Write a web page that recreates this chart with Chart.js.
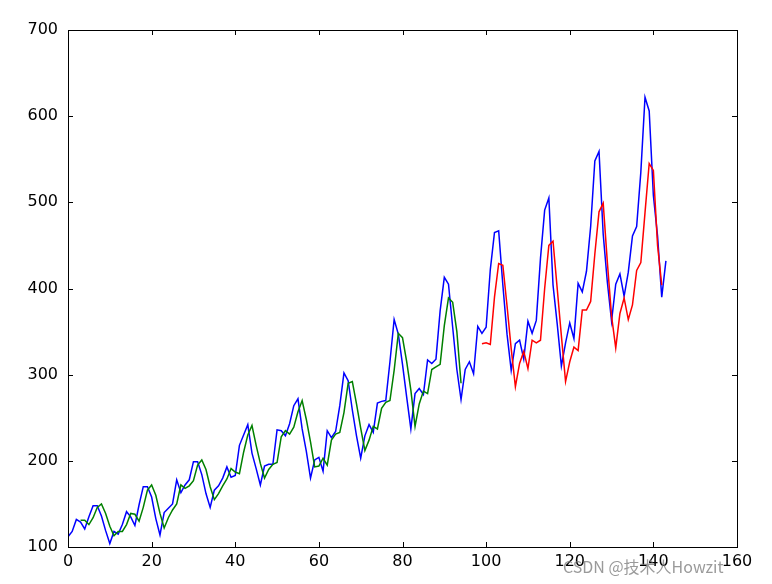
<!DOCTYPE html>
<html><head><meta charset="utf-8">
<script src="https://cdn.jsdelivr.net/npm/chart.js@4/dist/chart.umd.min.js"></script>
<style>html,body{margin:0;padding:0;background:#fff;}canvas{display:block;}</style>
</head><body>
<canvas id="c" width="772" height="584"></canvas>
<script>
// Actual series (index 0..143)
const passengers = [112,118,132,129,121,135,148,148,136,119,104,118,
115,126,141,135,125,149,170,170,158,133,114,140,
145,150,178,163,172,178,199,199,184,162,146,166,
171,180,193,181,183,218,230,242,209,191,172,194,
196,196,236,235,229,243,264,272,237,211,180,201,
204,188,235,227,234,264,302,293,259,229,203,229,
242,233,267,269,270,315,364,347,312,274,237,278,
284,277,317,313,318,374,413,405,355,306,271,306,
315,301,356,348,355,422,465,467,404,347,305,336,
340,318,362,348,363,435,491,505,404,359,310,337,
360,342,406,396,420,472,548,559,463,407,362,405,
417,391,419,461,472,535,622,606,508,461,390,432];

// Train prediction, starting at index 3
const trainStart = 3;
const trainPredict = [131,131,126,134,146,150,139,124,113,118,118,126,139,138,130,146,166,172,160,139,
122,134,143,150,172,168,171,177,195,201,190,170,155,162,171,179,191,187,185,210,
230,241,218,197,180,190,196,198,228,235,231,239,257,270,248,222,193,194,203,195,
224,231,233,256,290,292,266,238,212,224,240,237,261,268,270,305,348,343,315,282,
240,266,281,278,306,309,312,357,389,384,350,290];

// Test prediction, starting at index 99
const testStart = 99;
const testPredict = [336,337,335,390,429,427,380,330,286,313,327,307,340,337,340,400,450,455,400,345,
292,315,332,328,375,375,385,440,489,499,430,368,331,371,389,364,381,421,430,488,
545,537,450,404];

const xTicks = [0,20,40,60,80,100,120,140,160];
const yTicks = [100,200,300,400,500,600,700];
const watermark = 'CSDN @技术人Howzit';

function toPoints(arr, start){ return arr.map((v,i)=>({x:i+start,y:v})); }

const frame = {
  id:'frame',
  afterDraw(chart){
    const {ctx, chartArea:a, scales} = chart;
    ctx.save();
    ctx.strokeStyle='#000'; ctx.lineWidth=1;
    ctx.strokeRect(Math.round(a.left)+0.5, Math.round(a.top)+0.5, Math.round(a.right-a.left), Math.round(a.bottom-a.top));
    ctx.beginPath();
    const tl=5;
    xTicks.forEach(t=>{
      const x=Math.round(scales.x.getPixelForValue(t))+0.5;
      ctx.moveTo(x,a.bottom); ctx.lineTo(x,a.bottom-tl);
      ctx.moveTo(x,a.top); ctx.lineTo(x,a.top+tl);
    });
    yTicks.forEach(t=>{
      const y=Math.round(scales.y.getPixelForValue(t))+0.5;
      ctx.moveTo(a.left,y); ctx.lineTo(a.left+tl,y);
      ctx.moveTo(a.right,y); ctx.lineTo(a.right-tl,y);
    });
    ctx.stroke();
    ctx.font='16px "Noto Sans CJK SC", "DejaVu Sans", sans-serif';
    ctx.fillStyle='rgba(120,120,120,0.75)';
    ctx.textAlign='left'; ctx.textBaseline='middle';
    ctx.fillText(watermark, 563, 567);
    ctx.restore();
  }
};

new Chart(document.getElementById('c'), {
  type:'line',
  data:{datasets:[
    {data:toPoints(passengers,0), borderColor:'#0000ff', borderWidth:1.5, pointRadius:0, fill:false, tension:0, order:3},
    {data:toPoints(trainPredict,trainStart), borderColor:'#008000', borderWidth:1.5, pointRadius:0, fill:false, tension:0, order:2},
    {data:toPoints(testPredict,testStart), borderColor:'#ff0000', borderWidth:1.5, pointRadius:0, fill:false, tension:0, order:1}
  ]},
  options:{
    responsive:false, animation:false, devicePixelRatio:1,
    layout:{padding:{top:30,right:35,left:0,bottom:0}},
    plugins:{legend:{display:false}, tooltip:{enabled:false}},
    scales:{
      x:{type:'linear', min:0, max:160,
        afterBuildTicks(s){ s.ticks = xTicks.map(v=>({value:v})); },
        afterFit(s){ s.height=37; },
        grid:{display:false, tickLength:0}, border:{display:false},
        ticks:{color:'#000', font:{family:'"DejaVu Sans"', size:16}, padding:5, maxRotation:0}},
      y:{type:'linear', min:100, max:700,
        afterBuildTicks(s){ s.ticks = yTicks.map(v=>({value:v})); },
        afterFit(s){ s.width=68; },
        grid:{display:false, tickLength:0}, border:{display:false},
        ticks:{color:'#000', font:{family:'"DejaVu Sans"', size:16}, padding:10}}
    }
  },
  plugins:[frame]
});
</script>
</body></html>
